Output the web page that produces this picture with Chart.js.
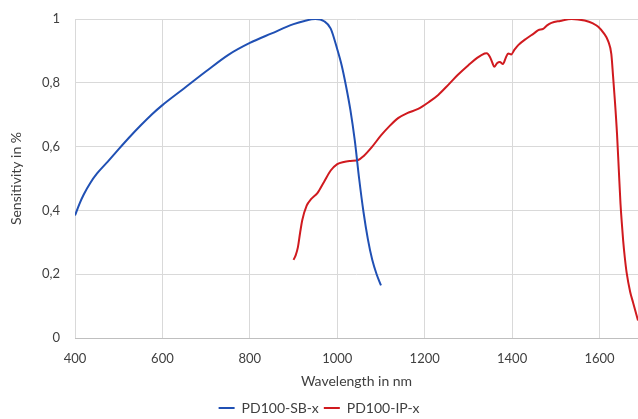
<!DOCTYPE html>
<html>
<head>
<meta charset="utf-8">
<script src="https://cdn.jsdelivr.net/npm/chart.js@4"></script>
<style>
  html, body { margin: 0; padding: 0; background: #fff; }
  #wrap { width: 638px; height: 419px; }
</style>
</head>
<body>
<div id="wrap"><canvas id="chart" width="638" height="419"></canvas></div>
<script>
// Series data
const seriesNames = ['PD100-SB-x', 'PD100-IP-x'];

const sbWavelength = [400, 410, 420, 435, 450, 475, 500, 525, 550, 575, 600, 650, 700, 750, 800, 850, 900, 925, 950, 970, 985, 1000, 1010, 1020, 1030, 1040, 1050, 1060, 1070, 1080, 1090, 1100];
const sbValues = [0.384, 0.42, 0.45, 0.486, 0.515, 0.553, 0.592, 0.63, 0.666, 0.70, 0.73, 0.783, 0.836, 0.887, 0.925, 0.955, 0.984, 0.994, 1.0, 0.993, 0.97, 0.905, 0.855, 0.79, 0.715, 0.62, 0.5, 0.395, 0.31, 0.245, 0.2, 0.165];

const ipWavelength = [900, 905, 910, 915, 920, 930, 940, 955, 970, 985, 1000, 1015, 1030, 1048, 1060, 1080, 1100, 1120, 1140, 1160, 1185, 1210, 1231, 1255, 1276, 1300, 1320, 1337, 1342, 1349, 1355, 1359, 1366, 1372, 1379, 1386, 1391, 1398, 1405, 1414, 1433, 1450, 1460, 1471, 1480, 1490, 1510, 1536, 1566, 1585, 1597, 1610, 1620, 1627, 1631, 1635, 1640, 1644, 1648, 1651, 1654, 1658, 1662, 1670, 1677, 1688];
const ipValues = [0.245, 0.26, 0.285, 0.33, 0.37, 0.415, 0.435, 0.455, 0.49, 0.525, 0.545, 0.552, 0.555, 0.558, 0.57, 0.6, 0.635, 0.665, 0.69, 0.705, 0.718, 0.74, 0.762, 0.795, 0.825, 0.855, 0.878, 0.892, 0.893, 0.882, 0.862, 0.85, 0.862, 0.865, 0.859, 0.88, 0.892, 0.889, 0.903, 0.918, 0.939, 0.955, 0.965, 0.969, 0.98, 0.988, 0.994, 1.0, 0.995, 0.986, 0.976, 0.955, 0.93, 0.89, 0.82, 0.746, 0.64, 0.53, 0.42, 0.36, 0.306, 0.25, 0.205, 0.145, 0.11, 0.055];

const xTicks = [400, 600, 800, 1000, 1200, 1400, 1600];
const yTicks = [0, 0.2, 0.4, 0.6, 0.8, 1];

const toPoints = (xs, ys) => xs.map((x, i) => ({ x: x, y: ys[i] }));

const textColor = '#404040';
const gridColor = '#d9d9d9';

const ctx = document.getElementById('chart').getContext('2d');
new Chart(ctx, {
    type: 'line',
    data: {
        datasets: [
            {
                label: seriesNames[0],
                data: toPoints(sbWavelength, sbValues),
                borderColor: '#2050b4',
                backgroundColor: '#2050b4',
                borderWidth: 2,
                pointRadius: 0,
                cubicInterpolationMode: 'monotone'
            },
            {
                label: seriesNames[1],
                data: toPoints(ipWavelength, ipValues),
                borderColor: '#d01a1f',
                backgroundColor: '#d01a1f',
                borderWidth: 2,
                pointRadius: 0,
                cubicInterpolationMode: 'monotone'
            }
        ]
    },
    options: {
        responsive: false,
        animation: false,
        // legend keeps a fixed gap under it, so let it hang off the bottom a little
        layout: { padding: { top: 0, right: 0, left: 0, bottom: -6 } },
        plugins: {
            tooltip: { enabled: false },
            legend: {
                position: 'bottom',
                labels: {
                    color: textColor,
                    font: { family: 'Lato', size: 14 },
                    boxWidth: 16,
                    boxHeight: 0,
                    padding: 5
                }
            }
        },
        scales: {
            x: {
                type: 'linear',
                min: 400,
                max: 1688,
                afterBuildTicks: scale => { scale.ticks = xTicks.map(v => ({ value: v })); },
                afterFit: scale => { scale.height = 58; },
                grid: { color: gridColor, drawTicks: false },
                border: { color: '#bfbfbf', width: 1 },
                ticks: {
                    color: textColor,
                    font: { family: 'Lato', size: 13 },
                    padding: 13,
                    maxRotation: 0,
                    callback: v => String(v)
                },
                title: {
                    display: true,
                    text: 'Wavelength in nm',
                    color: textColor,
                    font: { family: 'Lato', size: 14 },
                    padding: { top: 4, bottom: 6 }
                }
            },
            y: {
                min: 0,
                max: 1,
                afterBuildTicks: scale => { scale.ticks = yTicks.map(v => ({ value: v })); },
                afterFit: scale => {
                    scale.width = 75;
                    scale.paddingTop = 19;
                    scale.paddingBottom = 0;
                },
                grid: { color: gridColor, drawTicks: false },
                border: { display: false },
                ticks: {
                    color: textColor,
                    font: { family: 'Lato', size: 13 },
                    padding: 15,
                    callback: v => String(Math.round(v * 10) / 10).replace('.', ',')
                },
                title: {
                    display: true,
                    text: 'Sensitivity in %',
                    color: textColor,
                    font: { family: 'Lato', size: 14 },
                    padding: { top: 8, bottom: 0 }
                }
            }
        }
    }
});
</script>
</body>
</html>
